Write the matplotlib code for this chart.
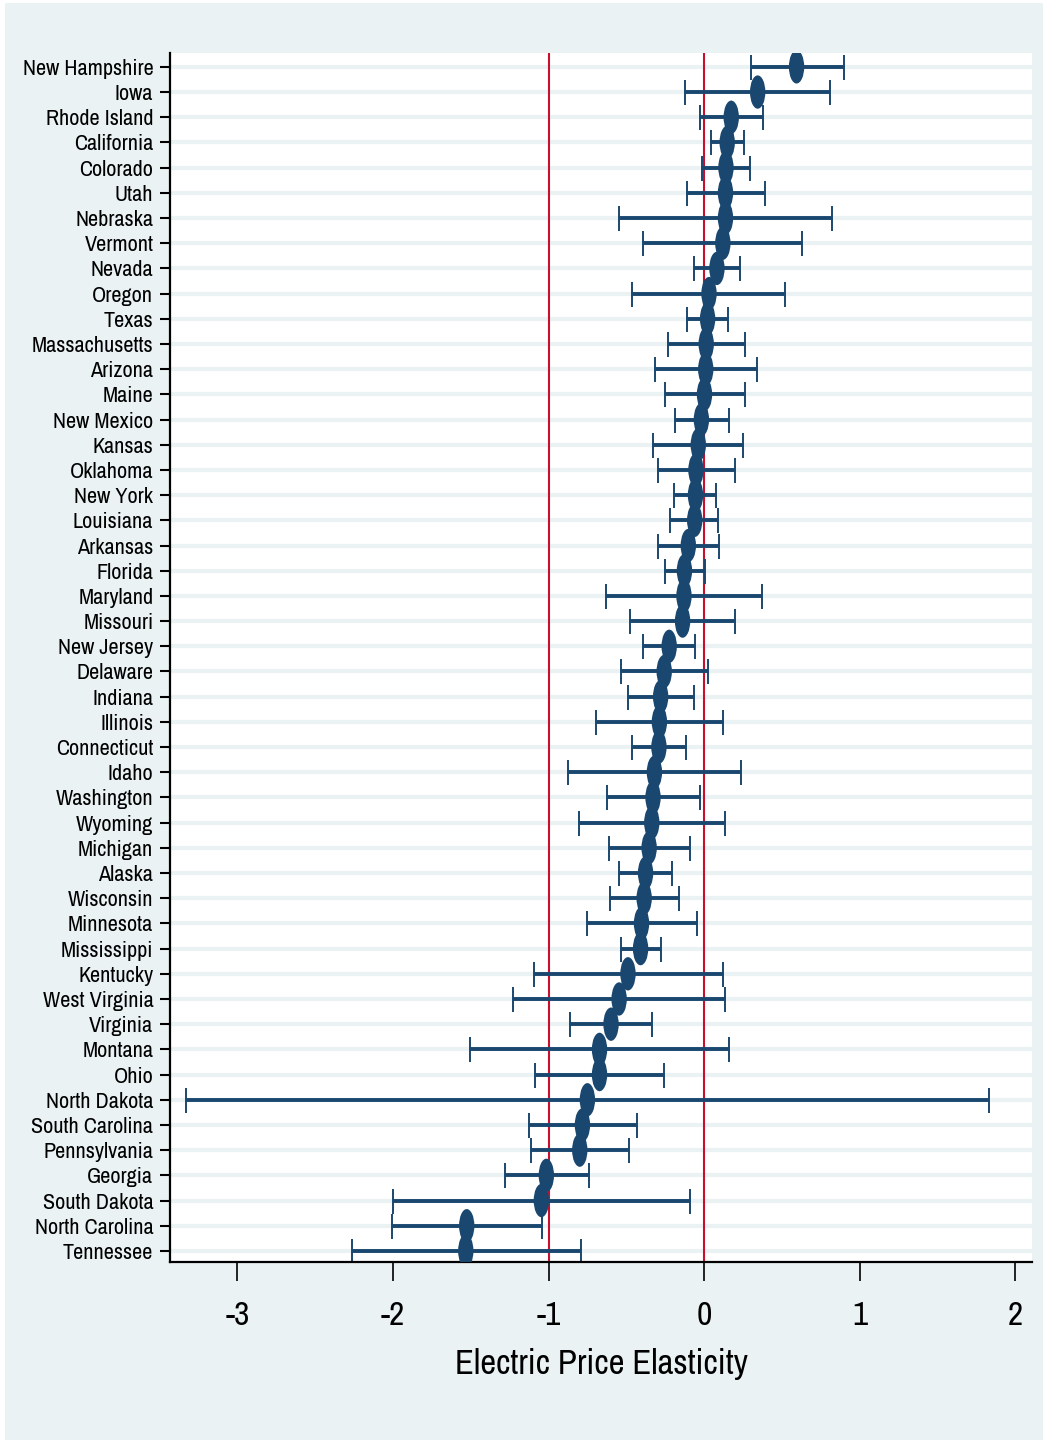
"""
Dot plot of state-level electric price elasticities with confidence intervals.
"""

import matplotlib
matplotlib.use("Agg")
import matplotlib.pyplot as plt
from matplotlib import font_manager
from matplotlib.markers import MarkerStyle
from matplotlib.patches import Rectangle
from matplotlib.transforms import Affine2D

# States, ordered top to bottom
states = [
    "New Hampshire", "Iowa", "Rhode Island", "California", "Colorado", "Utah",
    "Nebraska", "Vermont", "Nevada", "Oregon", "Texas", "Massachusetts",
    "Arizona", "Maine", "New Mexico", "Kansas", "Oklahoma", "New York",
    "Louisiana", "Arkansas", "Florida", "Maryland", "Missouri", "New Jersey",
    "Delaware", "Indiana", "Illinois", "Connecticut", "Idaho", "Washington",
    "Wyoming", "Michigan", "Alaska", "Wisconsin", "Minnesota", "Mississippi",
    "Kentucky", "West Virginia", "Virginia", "Montana", "Ohio", "North Dakota",
    "South Carolina", "Pennsylvania", "Georgia", "South Dakota",
    "North Carolina", "Tennessee",
]

# Point estimates
estimate = [
    0.595, 0.345, 0.175, 0.149, 0.141, 0.138,
    0.138, 0.121, 0.083, 0.032, 0.023, 0.014,
    0.011, 0.003, -0.017, -0.037, -0.052, -0.055,
    -0.060, -0.101, -0.126, -0.129, -0.138, -0.224,
    -0.256, -0.279, -0.287, -0.290, -0.319, -0.328,
    -0.336, -0.353, -0.376, -0.385, -0.402, -0.408,
    -0.489, -0.546, -0.598, -0.672, -0.672, -0.750,
    -0.782, -0.799, -1.014, -1.046,
    -1.526, -1.532,
]

# Lower confidence bounds
ci_low = [
    0.300, -0.124, -0.026, 0.043, -0.011, -0.112,
    -0.549, -0.391, -0.063, -0.463, -0.109, -0.233,
    -0.316, -0.253, -0.187, -0.328, -0.299, -0.190,
    -0.216, -0.296, -0.253, -0.629, -0.477, -0.394,
    -0.534, -0.491, -0.693, -0.460, -0.876, -0.626,
    -0.805, -0.612, -0.546, -0.606, -0.753, -0.537,
    -1.092, -1.227, -0.859, -1.506, -1.089, -3.333,
    -1.124, -1.112, -1.282, -2.000,
    -2.006, -2.261,
]

# Upper confidence bounds
ci_high = [
    0.897, 0.813, 0.379, 0.259, 0.293, 0.394,
    0.825, 0.629, 0.233, 0.523, 0.155, 0.261,
    0.339, 0.264, 0.158, 0.253, 0.198, 0.080,
    0.092, 0.095, 0.006, 0.376, 0.198, -0.055,
    0.023, -0.066, 0.121, -0.118, 0.236, -0.029,
    0.132, -0.092, -0.204, -0.161, -0.046, -0.276,
    0.124, 0.138, -0.336, 0.161, -0.256, 1.833,
    -0.434, -0.480, -0.741, -0.089,
    -1.040, -0.793,
]

x_ticks = [-3, -2, -1, 0, 1, 2]
ref_lines = [-1, 0]

NAVY = "#1a476f"
RED = "#c8102e"
BG = "#eaf2f3"

CONDENSED = {"ultra-condensed", "extra-condensed", "condensed", "semi-condensed"}


def _narrow_font():
    """Find a condensed sans face; fall back to Liberation Sans."""
    found = []
    for f in font_manager.fontManager.ttflist:
        if f.style != "normal" or f.weight not in (400, "normal", "regular"):
            continue
        tag = (f.name + " " + f.fname).lower()
        if "mono" in tag or "serif" in tag.replace("sans", ""):
            continue
        if "narrow" in tag or "condensed" in tag or f.stretch in CONDENSED:
            found.append(f)
    prefs = ["narrow", "roboto", "open", "noto", "dejavu", "liberation"]
    for p in prefs:
        for f in found:
            if p in (f.name + " " + f.fname).lower():
                return f.name, f.stretch, True
    if found:
        return found[0].name, found[0].stretch, True
    return "Liberation Sans", "normal", False


def main():
    family, stretch, narrow = _narrow_font()
    plt.rcParams["font.family"] = [family, "DejaVu Sans"]
    plt.rcParams["font.stretch"] = stretch
    k = 1.0 if narrow else 0.85

    W, H = 1047, 1443
    fig = plt.figure(figsize=(W / 100, H / 100), dpi=100, facecolor="white")

    # light graph region inside a thin white frame
    fig.patches.append(Rectangle((5 / W, 3 / H), (W - 9) / W, (H - 6) / H,
                                 transform=fig.transFigure, facecolor=BG,
                                 edgecolor="none", zorder=-10))

    ax = fig.add_axes([170 / W, (H - 1262) / H, (1032 - 170) / W, (1262 - 53) / H])
    ax.set_facecolor("white")

    y = list(range(len(states)))
    lo_err = [e - l for e, l in zip(estimate, ci_low)]
    hi_err = [h - e for e, h in zip(estimate, ci_high)]

    for xv in ref_lines:
        ax.axvline(xv, color=RED, lw=1.5, zorder=1.5)

    ax.errorbar(estimate, y, xerr=[lo_err, hi_err], fmt="none", ecolor=NAVY,
                elinewidth=2.8, capsize=9, capthick=1.4, zorder=2)

    # tall, narrow dots
    dot = MarkerStyle("o", transform=Affine2D().scale(0.46, 1.0))
    ax.scatter(estimate, y, marker=dot, s=24 ** 2, color=NAVY,
               edgecolors="none", zorder=3)

    ax.set_xlim(-3.434, 2.109)
    ax.set_ylim(len(states) - 1 + 0.44, -0.55)

    ax.set_yticks(y)
    ax.set_yticklabels(states, fontsize=16 * k)
    ax.set_xticks(x_ticks)
    ax.set_xticklabels([str(t) for t in x_ticks], fontsize=24 * k)

    ax.set_axisbelow(True)
    ax.grid(axis="y", color=BG, lw=3)
    ax.grid(axis="x", visible=False)

    ax.tick_params(axis="y", length=7, width=1.5, pad=5, color="black")
    ax.tick_params(axis="x", length=14, width=1.2, pad=14, color="black")

    for side in ["top", "right"]:
        ax.spines[side].set_visible(False)
    for side in ["left", "bottom"]:
        ax.spines[side].set_linewidth(1.6)
        ax.spines[side].set_color("black")

    ax.set_xlabel("Electric Price Elasticity", fontsize=25 * k, labelpad=12)

    fig.savefig("out.png", dpi=100, facecolor="white")
    plt.close(fig)


if __name__ == "__main__":
    main()
